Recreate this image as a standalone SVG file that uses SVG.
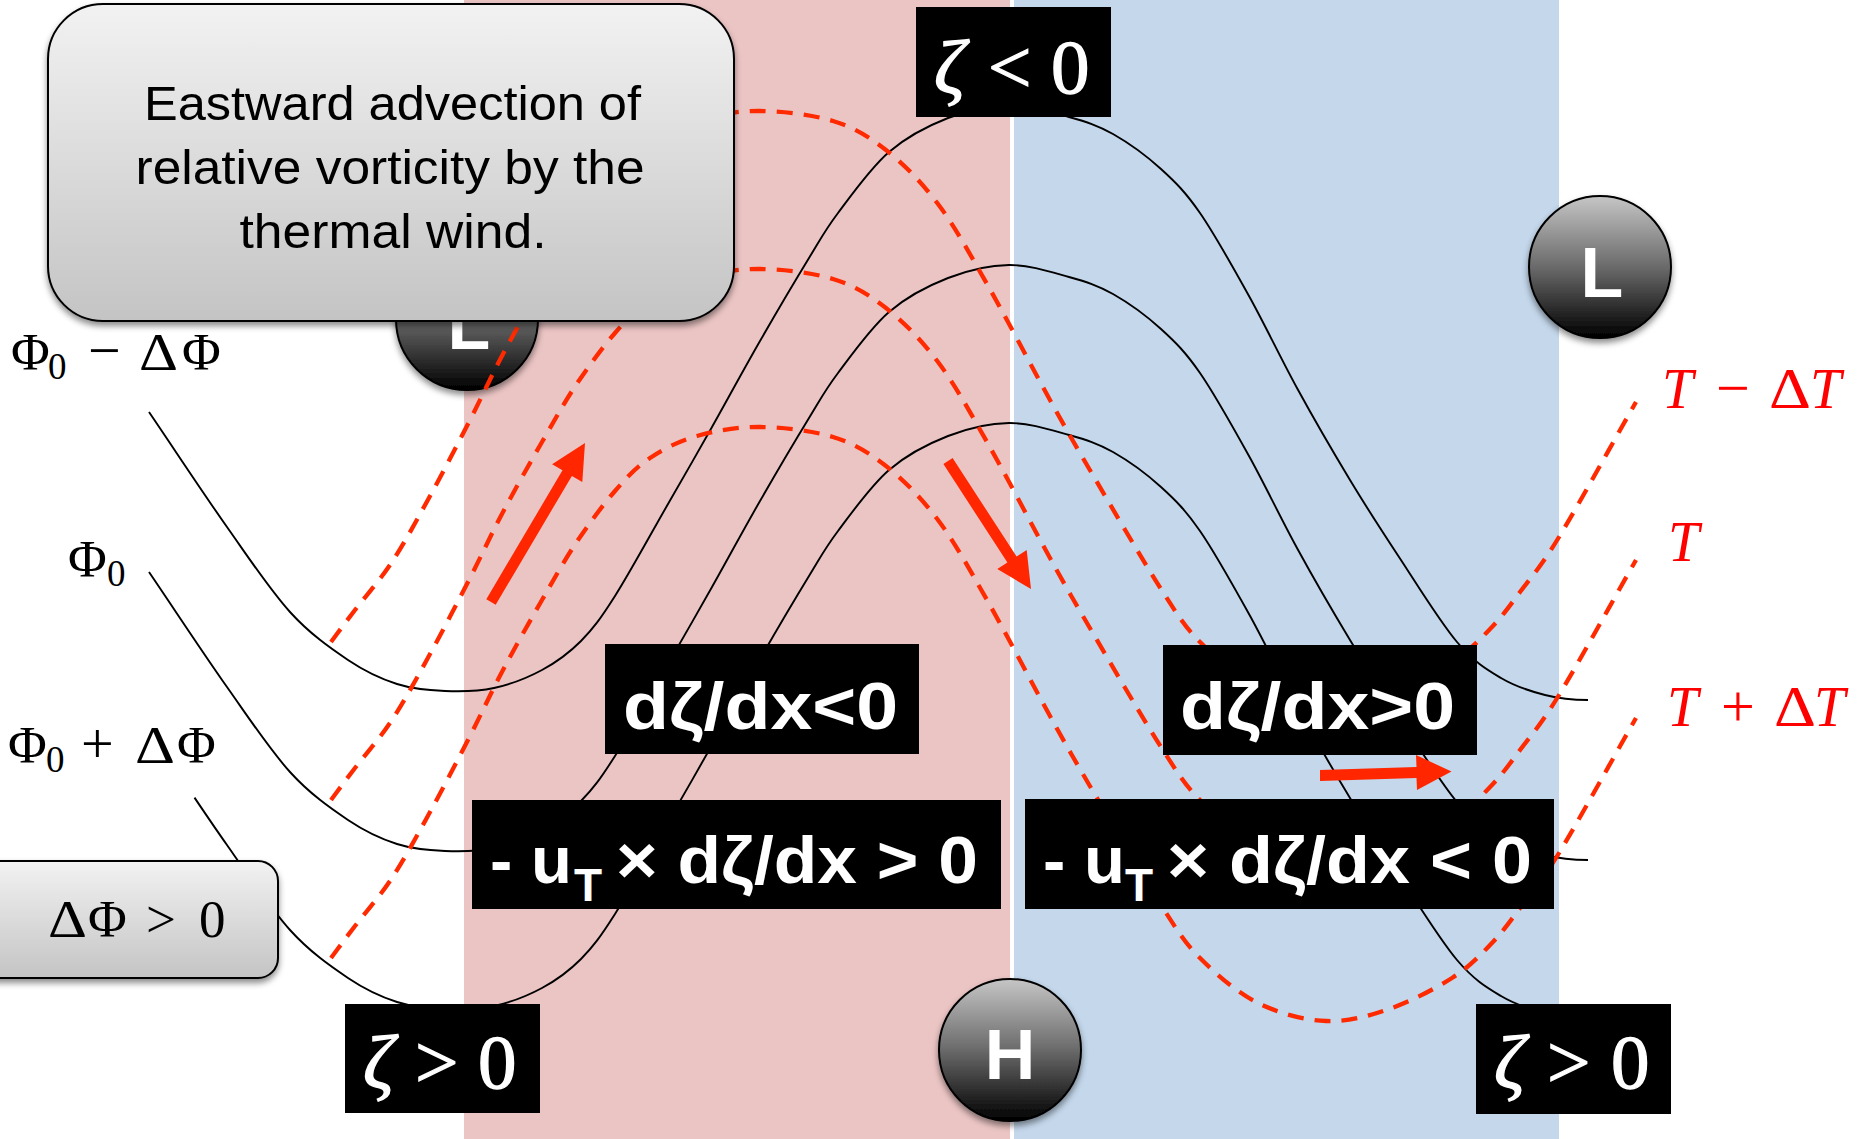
<svg xmlns="http://www.w3.org/2000/svg" width="1865" height="1139" viewBox="0 0 1865 1139">
<style>
.geo{fill:none;stroke:#000;stroke-width:1.9}
.temp{fill:none;stroke:#ff2a00;stroke-width:4.3;stroke-dasharray:16 11}
.arrow{fill:#ff2600}
.ball{fill:url(#ballGrad);stroke:#000;stroke-width:2;filter:url(#shadow)}
.balltxt{fill:#fff;font-family:"Liberation Sans",Arial,sans-serif;font-weight:bold;font-size:70px;text-anchor:middle}
.blk{fill:#000}
.wb{fill:#fff;font-family:"Liberation Sans",Arial,sans-serif;font-weight:bold;font-size:67px}
.wsub{fill:#fff;font-family:"Liberation Sans",Arial,sans-serif;font-weight:bold;font-size:46px}
.wz{fill:#fff;stroke:#fff;stroke-width:1.3;font-family:"Liberation Serif","Times New Roman",serif;font-size:77px}
.callout{fill:url(#boxGrad);stroke:#000;stroke-width:2;filter:url(#shadow)}
.ctxt{fill:#000;font-family:"Liberation Sans",Arial,sans-serif;font-size:48px}
.phi{fill:#000;font-family:"Liberation Serif","Times New Roman",serif;font-size:53px}
.tl{fill:#ff0000;font-family:"Liberation Serif","Times New Roman",serif;font-size:56px}
</style>
<defs>
<linearGradient id="boxGrad" x1="0" y1="0" x2="0" y2="1">
<stop offset="0" stop-color="#f2f2f2"/>
<stop offset="1" stop-color="#c4c4c4"/>
</linearGradient>
<linearGradient id="ballGrad" x1="0" y1="0" x2="0" y2="1">
<stop offset="0" stop-color="#c6c6c6"/>
<stop offset="0.5" stop-color="#6a6a6a"/>
<stop offset="1" stop-color="#000"/>
</linearGradient>
<filter id="shadow" x="-20%" y="-20%" width="140%" height="150%">
<feDropShadow dx="0" dy="4" stdDeviation="3" flood-color="#000" flood-opacity="0.45"/>
</filter>
<path id="geoA" d="M149,412 C175,450.3 203.5,493.7 227,527 S269.8,589.8 290,612 S330.2,648 348,660 S380.8,678.8 397,684 S428.8,690.3 445,691 S477.8,691.5 494,688 S527.5,677.8 542,670 S568.8,653.3 581,641 S600.5,618.8 615,596 S651.8,532.2 668,504 S696.7,454.2 712,427 S743.8,369.2 760,341 S796,279.3 809,258 S824.7,230.7 838,213 S870.7,167.8 889,152 S928,125.8 948,118 S988.8,105.2 1009,105 S1051.7,112.2 1069,117 S1097.7,125.3 1113,134 S1146.5,155.8 1161,169 S1185.3,191.8 1200,213 S1232.8,266.8 1249,296 S1280.2,357.3 1297,388 S1333,451.8 1350,480 S1381.2,530 1399,557 S1440,622 1457,642 S1486.3,669.2 1501,678 S1530.5,691.3 1545,695 S1574,700 1588,700"/>
<path id="geoC" d="M194.5,479.6 C205.9,496.5 216.9,512.7 227,527 S269.8,589.8 290,612 S330.2,648 348,660 S380.8,678.8 397,684 S428.8,690.3 445,691 S477.8,691.5 494,688 S527.5,677.8 542,670 S568.8,653.3 581,641 S600.5,618.8 615,596 S651.8,532.2 668,504 S696.7,454.2 712,427 S743.8,369.2 760,341 S796,279.3 809,258 S824.7,230.7 838,213 S870.7,167.8 889,152 S928,125.8 948,118 S988.8,105.2 1009,105 S1051.7,112.2 1069,117 S1097.7,125.3 1113,134 S1146.5,155.8 1161,169 S1185.3,191.8 1200,213 S1232.8,266.8 1249,296 S1280.2,357.3 1297,388 S1333,451.8 1350,480 S1381.2,530 1399,557 S1440,622 1457,642 S1486.3,669.2 1501,678 S1530.5,691.3 1545,695 S1574,700 1588,700"/>
<path id="tempC" d="M331,958 C339,947.3 344.8,939.3 355,926 S379.5,897 392,878 S417.2,835.3 430,812 S456.8,761.7 469,738 S490.8,693 503,670 S529.8,621.2 542,600 S563.8,561.2 576,543 S602.7,505.2 615,491 S636.3,467.2 650,458 S678.7,441.2 697,436 S737.3,426.8 760,427 S812,430.5 833,437 S868.5,452.2 886,466 S921.2,497.7 938,520 S968.3,567.3 987,600 S1032.2,683.8 1050,716 S1075.5,761.5 1094,793 S1143.3,877.5 1161,905 S1183.8,941.7 1200,958 S1237,992.5 1258,1003 S1304.2,1020 1326,1021 S1368,1016.2 1389,1009 S1435,988.8 1452,978 S1479.7,955.7 1491,944 S1508.7,923.2 1520,908 S1539.7,884.7 1559,853 S1610.3,763 1636,718"/>
</defs>

<g id="background">
<rect x="0" y="0" width="1865" height="1139" fill="#fff"/>
<rect x="464" y="0" width="546" height="1139" fill="#ebc5c4"/>
<rect x="1014" y="0" width="545" height="1139" fill="#c4d7eb"/>
</g>

<g id="low-left">
<circle class="ball" cx="467" cy="319" r="71"/>
<text class="balltxt" x="469" y="349">L</text>
</g>
<g id="low-right">
<circle class="ball" cx="1600" cy="267" r="71"/>
<text class="balltxt" x="1602" y="297">L</text>
</g>
<g id="high">
<circle class="ball" cx="1010" cy="1050" r="71"/>
<text class="balltxt" x="1010" y="1079">H</text>
</g>

<g id="connectors">
<use href="#geoA" class="geo"/>
<use href="#geoA" class="geo" transform="translate(0,160)"/>
<use href="#geoC" class="geo" transform="translate(0,318)"/>
<use href="#tempC" class="temp" transform="translate(0,-316)"/>
<use href="#tempC" class="temp" transform="translate(0,-158)"/>
<use href="#tempC" class="temp"/>
</g>

<g id="arrows">
<polygon class="arrow" points="486.3,599.2 562.5,470.3 552.1,464.2 585,443 582.3,482 571.9,475.9 495.7,604.8"/>
<polygon class="arrow" points="952.6,458 1016.6,556.6 1026.7,550.1 1031,589 997.3,569.1 1007.4,562.6 943.4,464"/>
<polygon class="arrow" points="1320,770 1416.5,767 1416,755 1451.5,771.5 1417,790 1416.5,778 1320,781"/>
</g>

<g id="zeta-neg-top">
<rect class="blk" x="916" y="7" width="195" height="110"/>
<text class="wz" y="93"><tspan x="934" font-style="italic">ζ</tspan><tspan x="988">&lt;</tspan><tspan x="1051">0</tspan></text>
</g>
<g id="zeta-pos-left">
<rect class="blk" x="345" y="1004" width="195" height="109"/>
<text class="wz" y="1088"><tspan x="363" font-style="italic">ζ</tspan><tspan x="415">&gt;</tspan><tspan x="478">0</tspan></text>
</g>
<g id="zeta-pos-right">
<rect class="blk" x="1476" y="1004" width="195" height="110"/>
<text class="wz" y="1088"><tspan x="1494" font-style="italic">ζ</tspan><tspan x="1547">&gt;</tspan><tspan x="1611">0</tspan></text>
</g>
<g id="dzdx-neg">
<rect class="blk" x="605" y="644" width="314" height="110"/>
<text class="wb" x="623" y="729" textLength="275" lengthAdjust="spacingAndGlyphs">dζ/dx&lt;0</text>
</g>
<g id="dzdx-pos">
<rect class="blk" x="1163" y="645" width="314" height="110"/>
<text class="wb" x="1180" y="729" textLength="275" lengthAdjust="spacingAndGlyphs">dζ/dx&gt;0</text>
</g>
<g id="adv-pos">
<rect class="blk" x="472" y="800" width="529" height="109"/>
<text class="wb" x="490" y="883">- u</text>
<text class="wsub" x="574" y="901">T</text>
<text class="wb" x="616" y="883" textLength="362" lengthAdjust="spacingAndGlyphs">× dζ/dx &gt; 0</text>
</g>
<g id="adv-neg">
<rect class="blk" x="1025" y="799" width="529" height="110"/>
<text class="wb" x="1043" y="883">- u</text>
<text class="wsub" x="1125" y="901">T</text>
<text class="wb" x="1167" y="883" textLength="365" lengthAdjust="spacingAndGlyphs">× dζ/dx &lt; 0</text>
</g>

<g id="callout">
<rect class="callout" x="48" y="4" width="686" height="317" rx="55" ry="55"/>
<text class="ctxt" x="144" y="120" textLength="497" lengthAdjust="spacingAndGlyphs">Eastward advection of</text>
<text class="ctxt" x="135.5" y="184" textLength="509" lengthAdjust="spacingAndGlyphs">relative vorticity by the</text>
<text class="ctxt" x="239.5" y="248" textLength="307" lengthAdjust="spacingAndGlyphs">thermal wind.</text>
</g>

<g id="dphi-box">
<rect class="callout" x="-30" y="861" width="308" height="117" rx="20" ry="20"/>
<text class="phi" x="48" y="937" font-size="54" textLength="39" lengthAdjust="spacingAndGlyphs">Δ</text>
<text class="phi" y="937" font-size="54"><tspan x="88">Φ</tspan><tspan x="146">&gt;</tspan><tspan x="199">0</tspan></text>
</g>

<g id="phi-labels">
<text class="phi" y="370"><tspan x="11">Φ</tspan><tspan x="48" y="379" font-size="37">0</tspan><tspan x="88" y="370" font-size="58">−</tspan><tspan x="182">Φ</tspan></text>
<text class="phi" x="139" y="370" textLength="39" lengthAdjust="spacingAndGlyphs">Δ</text>
<text class="phi" y="577"><tspan x="68">Φ</tspan><tspan x="107" y="586" font-size="37">0</tspan></text>
<text class="phi" y="763"><tspan x="8">Φ</tspan><tspan x="46" y="772" font-size="37">0</tspan><tspan x="81" y="763" font-size="58">+</tspan><tspan x="177">Φ</tspan></text>
<text class="phi" x="135" y="763" textLength="40" lengthAdjust="spacingAndGlyphs">Δ</text>
</g>

<g id="temp-labels">
<text class="tl" y="408"><tspan x="1662" font-style="italic">T</tspan><tspan x="1716" font-size="60">−</tspan></text>
<text class="tl" x="1769" y="408" textLength="42" lengthAdjust="spacingAndGlyphs">Δ</text>
<text class="tl" x="1810" y="408" font-style="italic">T</text>
<text class="tl" y="561"><tspan x="1668" font-style="italic">T</tspan></text>
<text class="tl" y="726"><tspan x="1667" font-style="italic">T</tspan><tspan x="1721" font-size="60">+</tspan></text>
<text class="tl" x="1774" y="726" textLength="42" lengthAdjust="spacingAndGlyphs">Δ</text>
<text class="tl" x="1814" y="726" font-style="italic">T</text>
</g>
</svg>
